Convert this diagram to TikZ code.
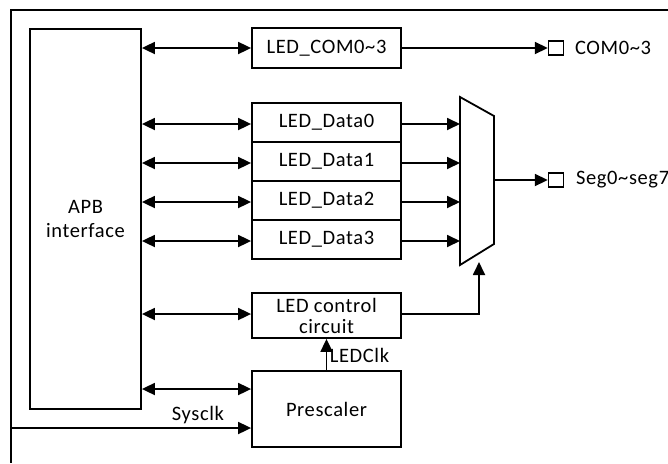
\documentclass[tikz,border=0pt]{standalone}
\usepackage{fontspec}
\setmainfont[LetterSpace=3]{Carlito}
\usetikzlibrary{arrows.meta}

\begin{document}
\begin{tikzpicture}[x=1pt,y=-1pt,line width=1.8pt,
  font=\fontsize{20.5}{24}\selectfont,
  >={Triangle[length=13pt,width=12pt]},
  blk/.style={draw,minimum width=149pt,inner sep=0pt,align=center},
  port/.style={draw,minimum width=15pt,minimum height=14pt,inner sep=0pt,line width=1.4pt}]
\useasboundingbox (0,0) rectangle (668,463);
% outer frame (open to the right and below)
\draw (668,10) -- (11,10) -- (11,463);

% APB interface on the left
\node[draw,minimum width=111pt,minimum height=380pt,align=center] (apb) at (85.5,219) {APB\\interface};

% register blocks
\node[blk,minimum height=40pt] (com) at (326.5,48) {LED\_COM0\textasciitilde3};
\foreach \i/\y in {0/122.5,1/161.5,2/200.5,3/239.5}
  \node[blk,minimum height=39pt] (data\i) at (326.5,\y) {LED\_Data\i};
\node[blk,minimum height=45pt] (ctrl) at (326.5,315.5) {LED control\\[-3pt]circuit};
\node[blk,minimum height=76pt] (pre) at (326.5,409) {Prescaler};

% multiplexer
\coordinate (muxl) at (460,0);
\coordinate (muxo) at (494,180);
\coordinate (musel) at (479,262);
\draw (460,97) -- (494,116) -- (494,244) -- (460,265) -- cycle;

% output pins
\node[port] (compin) at (556,48) {};
\node[anchor=west,inner sep=0pt,xshift=10pt] (comlbl) at (compin.east) {COM0\textasciitilde3};
\node[port] (segpin) at (556,180) {};
\node[anchor=west,inner sep=0pt,xshift=11pt] (seglbl) at (segpin.east) {Seg0\textasciitilde seg7};

% bus connections APB <-> blocks
\draw[<->] (apb.east |- com.west) -- (com.west);
\foreach \i in {0,1,2,3}
  \draw[<->] ([yshift=-1.5pt]apb.east |- data\i.west) -- ([yshift=-1.5pt]data\i.west);
\draw[<->] ([yshift=1.5pt]apb.east |- ctrl.west) -- ([yshift=1.5pt]ctrl.west);
\draw[<->] ([yshift=20pt]apb.east |- pre.west) -- ([yshift=20pt]pre.west);

% data to mux, mux out
\draw[->] (com.east) -- (compin.west);
\foreach \i in {0,1,2,3}
  \draw[->] ([yshift=-1.5pt]data\i.east) -- ([yshift=-1.5pt]data\i.east -| muxl);
\draw[->] (muxo) -- (segpin.west);
\draw[->] ([yshift=1.5pt]ctrl.east) -| (musel);

% clocks
\coordinate (sys) at (11,428);
\draw[->] (sys) -- (sys -| pre.west);
\node[anchor=south] (syslbl) at (198,428) {Sysclk};
\draw[->] (pre.north) -- (ctrl.south);
\node[anchor=west,inner sep=1pt] (clklbl) at (328,355) {LEDClk};
\end{tikzpicture}
\end{document}
